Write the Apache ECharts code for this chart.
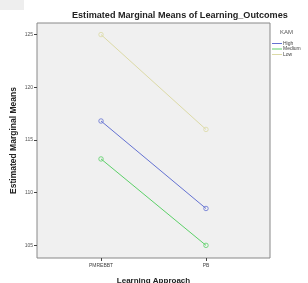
<!doctype html>
<html>
<head>
<meta charset="UTF-8">
<title>Estimated Marginal Means of Learning_Outcomes</title>
<script src="https://cdn.jsdelivr.net/npm/echarts@6/dist/echarts.min.js"></script>
<style>
  html, body { margin: 0; padding: 0; background: #fff; }
  #main { width: 308px; height: 283px; }
</style>
</head>
<body>
<div id="main"></div>
<script>
// categories on the x axis (placed at 0 and 1)
var approaches = ['PMREBBT', 'PB'];
var groups = ['High', 'Medium', 'Low'];
var highMeans = [116.8, 108.5];
var mediumMeans = [113.2, 105.0];
var lowMeans = [125.0, 116.0];
var yTicks = [105, 110, 115, 120, 125];

var colors = ['#6472d2', '#5cd068', '#dcdaa6'];
var values = [highMeans, mediumMeans, lowMeans];

var myChart = echarts.init(document.getElementById('main'));

var series = [];
for (var i = 0; i < groups.length; i++) {
  series.push({
    name: groups[i],
    type: 'line',
    data: values[i].map(function (v, j) { return [j, v]; }),
    symbol: 'circle',
    symbolSize: 4.5,
    lineStyle: { width: 1, color: colors[i] },
    // hollow markers showing the grey plot background
    itemStyle: { color: 'rgba(0,0,0,0)', borderColor: colors[i], borderWidth: 0.8 }
  });
}

var option = {
  backgroundColor: '#fff',
  animation: false,
  textStyle: { fontFamily: 'Liberation Sans, Arial, sans-serif' },
  title: [{
    text: 'Estimated Marginal Means of Learning_Outcomes',
    left: 72, top: 11, padding: 0,
    textStyle: { fontSize: 9.1, fontWeight: 'bold', color: '#222' }
  }, {
    text: 'KAM',
    left: 280, top: 29, padding: 0,
    textStyle: { fontSize: 6, fontWeight: 'normal', color: '#555' }
  }],
  legend: {
    orient: 'vertical',
    left: 272, top: 41, padding: 0,
    itemWidth: 10, itemHeight: 1, itemGap: 0.5,
    icon: 'rect',
    data: groups.map(function (g, k) {
      return { name: g, itemStyle: { color: colors[k], borderWidth: 0 } };
    }),
    textStyle: { fontSize: 5, color: '#444', padding: [0, 0, 0, -4] }
  },
  grid: {
    left: 37, right: 38, top: 23, bottom: 25,
    outerBoundsMode: 'none',
    show: true, backgroundColor: '#f0f0f0',
    borderColor: '#888', borderWidth: 1
  },
  xAxis: {
    type: 'value',
    min: -0.61, max: 1.61,
    name: 'Learning Approach',
    nameLocation: 'middle', nameGap: 19,
    nameMoveOverlap: false,
    nameTextStyle: { fontSize: 8, fontWeight: 'bold', color: '#222' },
    axisLine: { show: false, onZero: false },
    splitLine: { show: false },
    axisTick: { show: true, customValues: [0, 1], length: 3, lineStyle: { color: '#444' } },
    axisLabel: {
      customValues: [0, 1], fontSize: 5, color: '#444', margin: 5,
      formatter: function (v) { return approaches[Math.round(v)]; }
    }
  },
  yAxis: {
    type: 'value',
    min: 103.8, max: 126.1,
    name: 'Estimated Marginal Means',
    nameLocation: 'middle', nameGap: 19,
    nameMoveOverlap: false,
    nameTextStyle: { fontSize: 8.5, fontWeight: 'bold', color: '#222' },
    axisLine: { show: false, onZero: false },
    splitLine: { show: false },
    axisTick: { show: true, customValues: yTicks, length: 3, lineStyle: { color: '#444' } },
    axisLabel: { customValues: yTicks, fontSize: 5, color: '#555', margin: 4 }
  },
  graphic: [{
    type: 'rect', left: 0, top: 0,
    shape: { width: 24, height: 10 },
    style: { fill: '#eeeeee' }
  }],
  series: series
};

myChart.setOption(option);
</script>
</body>
</html>
